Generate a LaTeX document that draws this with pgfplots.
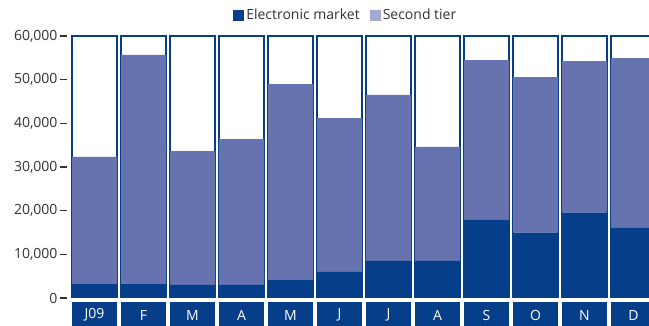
\documentclass[border=0pt]{standalone}
\usepackage{pgfplots}
\pgfplotsset{compat=1.18}
\usepackage{pgfplotstable}
\usepackage{fontspec}
\setmainfont{Open Sans}
\definecolor{dblue}{RGB}{6,62,137}
\definecolor{mblue}{RGB}{103,115,175}
\definecolor{lblue}{RGB}{164,169,212}
\definecolor{tgray}{RGB}{51,51,51}

\pgfplotstableread{
x elec second
0 3200 29100
1 3200 52450
2 3000 30660
3 3000 33400
4 4100 44900
5 6000 35200
6 8500 38000
7 8500 26100
8 17900 36600
9 14950 35650
10 19530 34740
11 16030 38930
}\data

\pgfplotstableread{
x full
0 60000
1 60000
2 60000
3 60000
4 60000
5 60000
6 60000
7 60000
8 60000
9 60000
10 60000
11 60000
}\back

\pgfplotsset{
  geom/.style={
    at={(67pt,28pt)}, anchor=south west,
    scale only axis, width=582pt, height=262pt,
    xmin=-0.5612, xmax=11.316, ymin=0, ymax=60000,
  }
}

\begin{document}
\begin{tikzpicture}
\begin{axis}[geom,
  ybar, bar width=45pt, bar shift=0pt,
  axis line style={draw=none},
  ytick={0,10000,...,60000},
  scaled y ticks=false,
  /pgf/number format/.cd, 1000 sep={,}, assume math mode=true, /pgfplots/.cd,
  ytick pos=left, tick align=outside,
  major tick length=7pt,
  y tick style={tgray, line width=1.6pt},
  yticklabel style={font=\fontsize{14}{16}\selectfont, text=tgray, xshift=1pt},
  xtick={0,...,11},
  xticklabels={J09,F,M,A,M,J,J,A,S,O,N,D},
  x tick style={draw=none},
  xticklabel style={fill=dblue, text=white, minimum width=45pt, minimum height=26pt,
    inner sep=0pt, anchor=north, font=\fontsize{14}{16}\selectfont, yshift=3pt},
]
\addplot[fill=white, draw=dblue, line width=1.2pt] table[x=x,y=full]{\back};
\end{axis}
\begin{axis}[geom, hide axis,
  ybar stacked, bar width=45pt, bar shift=0pt,
  legend style={at={(0.479,1.08)}, anchor=center, draw=none, fill=none,
    font=\fontsize{14}{16}\selectfont, text=tgray,
    /tikz/every even column/.append style={column sep=8pt}},
  legend columns=2,
  legend image code/.code={\fill[#1] (0pt,-5.5pt) rectangle (11pt,5.5pt);},
]
\addplot[fill=dblue, draw=none, forget plot] table[x=x,y=elec]{\data};
\addplot[fill=mblue, draw=none, forget plot] table[x=x,y=second]{\data};
\addlegendimage{fill=dblue, draw=none}
\addlegendentry{Electronic market}
\addlegendimage{fill=lblue, draw=none}
\addlegendentry{Second tier}
\end{axis}
\pgfresetboundingbox
\path (0,0) rectangle (649pt,326pt);
\end{tikzpicture}
\end{document}
